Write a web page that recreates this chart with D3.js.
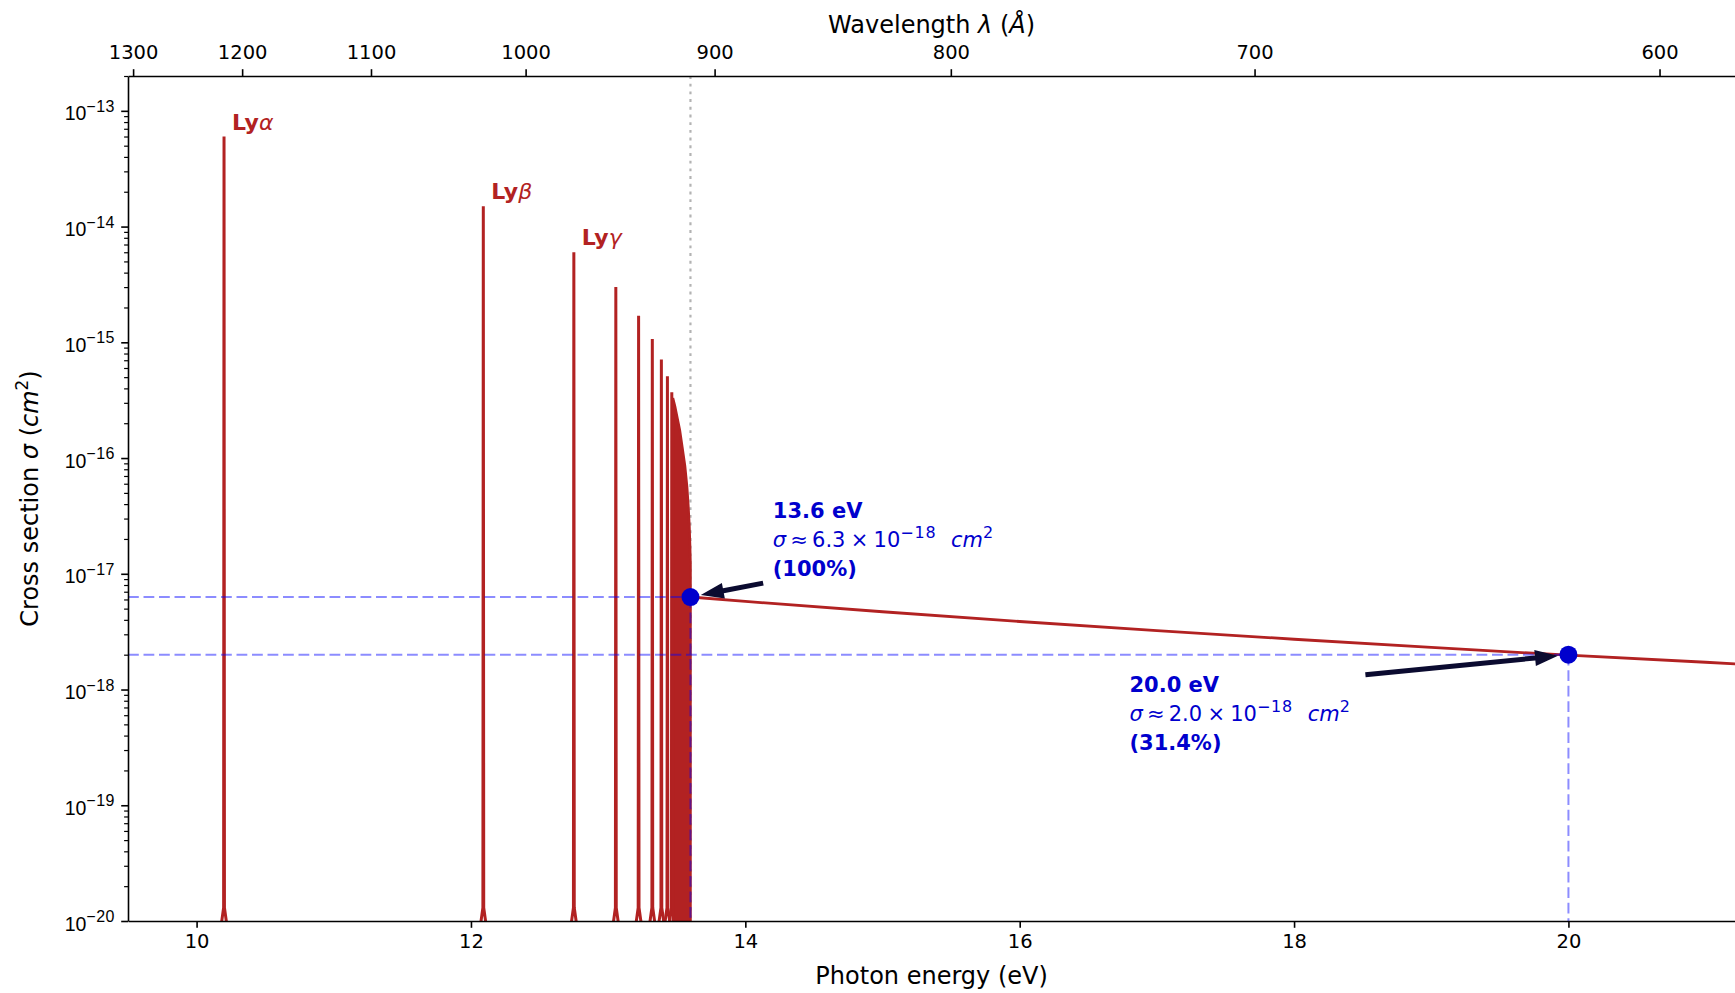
<!DOCTYPE html>
<html>
<head>
<meta charset="utf-8">
<script src="https://cdn.jsdelivr.net/npm/d3@7/dist/d3.min.js"></script>
<style>
  html, body { margin: 0; padding: 0; background: #fff; }
  svg { display: block; font-family: "DejaVu Sans", sans-serif; }
</style>
</head>
<body>
<svg id="chart" width="1735" height="993"></svg>
<script>
// Hydrogen Lyman-series absorption lines and photoionization continuum
const HC_EV_ANGSTROM = 12398.4;

// Discrete Lyman lines (n = 2 ... 10): energy (eV) and peak cross section (cm^2)
const lineEnergy = [10.2, 12.09, 12.75, 13.056, 13.222, 13.322, 13.388, 13.432, 13.464];
const linePeak   = [6.0e-14, 1.5e-14, 6.0e-15, 3.0e-15, 1.7e-15, 1.07e-15, 7.1e-16, 5.1e-16, 3.7e-16];
const lineLabelGreek = ["α", "β", "γ"];

// Unresolved high-n lines piling up against the series limit (upper envelope)
const seriesEdgeEnergy = [13.472, 13.487, 13.505, 13.522, 13.54, 13.56, 13.575, 13.584, 13.592, 13.597, 13.6];
const seriesEdgeSigma  = [3.3e-16, 2.8e-16, 2.2e-16, 1.75e-16, 1.25e-16, 8.5e-17, 5.6e-17, 3.9e-17, 2.6e-17, 1.7e-17, 1.2e-17];

// Photoionization continuum above 13.6 eV
const contEnergy = [13.6, 14, 15, 16, 17, 18, 19, 20, 21, 21.22];
const contSigma  = [6.3e-18, 5.77e-18, 4.70e-18, 3.87e-18, 3.23e-18, 2.72e-18, 2.31e-18, 1.98e-18, 1.72e-18, 1.665e-18];

// Highlighted points
const markerEnergy = [13.6, 20.0];
const markerSigma  = [6.3e-18, 2.0e-18];
const markerTitle  = ["13.6 eV", "20.0 eV"];
const markerMant   = ["6.3", "2.0"];
const markerExp    = ["−18", "−18"];
const markerPct    = ["(100%)", "(31.4%)"];
// annotation text anchors (data coords) and arrow tails (data coords)
const noteEnergy   = [14.2, 16.8];
const noteSigma    = [3.5e-17, 1.1e-18];
const tailEnergy   = [14.13, 18.52];
const tailSigma    = [8.3e-18, 1.34e-18];

// Axis ticks
const energyTicks = [10, 12, 14, 16, 18, 20];
const wavelengthTicks = [1300, 1200, 1100, 1000, 900, 800, 700, 600];
const sigmaDecades = [-20, -19, -18, -17, -16, -15, -14, -13];

const X_MIN = 9.5, X_MAX = 21.22, Y_MIN = 1e-20, Y_MAX = 2e-13;
const mL = 128, mR = 1735.8, mT = 76, mB = 921;
const RED = "#b22222", BLUE = "#0000cd", ARROW = "#0b0b30";

const svg = d3.select("#chart");
const x = d3.scaleLinear().domain([X_MIN, X_MAX]).range([mL, mR]);
const y = d3.scaleLog().domain([Y_MIN, Y_MAX]).range([mB, mT]);

svg.append("defs").append("clipPath").attr("id", "plotClip")
  .append("rect").attr("x", mL).attr("y", mT).attr("width", mR - mL).attr("height", mB - mT);

const plot = svg.append("g").attr("clip-path", "url(#plotClip)");

// ionization threshold marker
plot.append("line")
  .attr("x1", x(13.6)).attr("x2", x(13.6)).attr("y1", mT).attr("y2", mB)
  .attr("stroke", "#9a9a9a").attr("stroke-opacity", 0.75).attr("stroke-width", 2.2)
  .attr("stroke-dasharray", "2.9,4.8");

// narrow line profiles rising from the floor
const line = d3.line().x(d => x(d[0])).y(d => y(d[1]));
const HALF_BASE = 0.022, HALF_NECK = 0.003, NECK = 1.3e-20;
lineEnergy.forEach((e, i) => {
  const pts = [[e - HALF_BASE, Y_MIN * 0.9], [e - HALF_NECK, NECK], [e, linePeak[i]],
               [e + HALF_NECK, NECK], [e + HALF_BASE, Y_MIN * 0.9]];
  plot.append("path").attr("d", line(pts))
    .attr("fill", "none").attr("stroke", RED).attr("stroke-width", 3)
    .attr("stroke-linejoin", "bevel");
});

// series-limit pile-up
const edgePts = [[seriesEdgeEnergy[0], Y_MIN]]
  .concat(seriesEdgeEnergy.map((e, i) => [e, seriesEdgeSigma[i]]))
  .concat([[seriesEdgeEnergy[seriesEdgeEnergy.length - 1], Y_MIN]]);
plot.append("path").attr("d", line(edgePts))
  .attr("fill", RED).attr("stroke", RED).attr("stroke-width", 2.6);

// continuum
plot.append("path").attr("d", line(contEnergy.map((e, i) => [e, contSigma[i]])))
  .attr("fill", "none").attr("stroke", RED).attr("stroke-width", 2.8);

// guide lines to the highlighted points
markerEnergy.forEach((e, i) => {
  const px = x(e), py = y(markerSigma[i]);
  plot.append("line").attr("x1", mL).attr("x2", px).attr("y1", py).attr("y2", py)
    .attr("stroke", "blue").attr("stroke-opacity", 0.45).attr("stroke-width", 2)
    .attr("stroke-dasharray", "10.8,4.7");
  plot.append("line").attr("x1", px).attr("x2", px).attr("y1", py).attr("y2", mB)
    .attr("stroke", "blue").attr("stroke-opacity", 0.45).attr("stroke-width", 2)
    .attr("stroke-dasharray", "10.8,4.7");
});

// markers
plot.selectAll("circle.mk").data(markerEnergy).enter().append("circle")
  .attr("class", "mk")
  .attr("cx", d => x(d)).attr("cy", (d, i) => y(markerSigma[i]))
  .attr("r", 9).attr("fill", BLUE);

// arrows
function arrow(x0, y0, x1, y1, shrink) {
  const dx = x1 - x0, dy = y1 - y0, L = Math.hypot(dx, dy);
  const ux = dx / L, uy = dy / L, nx = -uy, ny = ux;
  const tx = x1 - ux * shrink, ty = y1 - uy * shrink;
  const hl = 23, hw = 8, sw = 2.5;
  const bx = tx - ux * hl, by = ty - uy * hl;
  const p = [
    [x0 + nx * sw, y0 + ny * sw], [bx + nx * sw, by + ny * sw], [bx + nx * hw, by + ny * hw],
    [tx, ty],
    [bx - nx * hw, by - ny * hw], [bx - nx * sw, by - ny * sw], [x0 - nx * sw, y0 - ny * sw]
  ];
  svg.append("path").attr("d", "M" + p.map(q => q.join(",")).join("L") + "Z").attr("fill", ARROW);
}
markerEnergy.forEach((e, i) => {
  arrow(x(tailEnergy[i]), y(tailSigma[i]), x(e), y(markerSigma[i]), 10.5);
});

// annotation text
const NOTE = 21, LEAD = 28.7;
markerEnergy.forEach((e, i) => {
  const tx = x(noteEnergy[i]), ty = y(noteSigma[i]) + 7.5;
  const g = svg.append("g").attr("fill", BLUE).attr("font-size", NOTE);
  g.append("text").attr("x", tx).attr("y", ty).attr("font-weight", "bold").text(markerTitle[i]);
  const t2 = g.append("text").attr("x", tx).attr("y", ty + LEAD);
  t2.append("tspan").attr("font-style", "italic").text("σ");
  t2.append("tspan").text("\u2009≈\u2009" + markerMant[i] + "\u2005×\u200510");
  t2.append("tspan").attr("font-size", NOTE * 0.76).attr("dy", -9).attr("letter-spacing", 0.8)
    .text(markerExp[i]);
  t2.append("tspan").attr("dy", 9).text("\u2002\u2009");
  t2.append("tspan").attr("font-style", "italic").text("cm");
  t2.append("tspan").attr("font-size", NOTE * 0.76).attr("dy", -9).text("2");
  g.append("text").attr("x", tx).attr("y", ty + 2 * LEAD).attr("font-weight", "bold").text(markerPct[i]);
});

// Lyman line labels
lineLabelGreek.forEach((gch, i) => {
  const t = svg.append("text")
    .attr("x", x(lineEnergy[i]) + 8).attr("y", y(linePeak[i]) - 7)
    .attr("fill", RED).attr("font-size", 22);
  t.append("tspan").attr("font-weight", "bold").text("Ly");
  t.append("tspan").attr("font-style", "italic").text(gch);
});

// ---- axes ----
const TICK = 19.5;
function styleAxis(g) {
  g.select(".domain").attr("stroke", "#000").attr("stroke-width", 1.6);
  g.selectAll(".tick line").attr("stroke", "#000").attr("stroke-width", 1.6);
  g.selectAll(".tick text").attr("font-size", TICK).attr("fill", "#000")
    .attr("font-family", "DejaVu Sans, sans-serif");
}

// bottom: photon energy
const gx = svg.append("g").attr("transform", `translate(0,${mB})`)
  .call(d3.axisBottom(x).tickValues(energyTicks).tickFormat(d3.format("d"))
    .tickSizeOuter(0).tickSizeInner(6.8).tickPadding(6));
styleAxis(gx);

// top: wavelength
const gt = svg.append("g").attr("transform", `translate(0,${mT})`)
  .call(d3.axisTop(x).tickValues(wavelengthTicks.map(l => HC_EV_ANGSTROM / l))
    .tickFormat((d, i) => String(wavelengthTicks[i]))
    .tickSizeOuter(0).tickSizeInner(6.8).tickPadding(10));
styleAxis(gt);

// left: cross section (log)
const minorVals = [];
sigmaDecades.forEach(k => { for (let m = 2; m <= 9; m++) { const v = m * Math.pow(10, k); if (v <= Y_MAX) minorVals.push(v); } });
const gyMinor = svg.append("g").attr("transform", `translate(${mL},0)`)
  .call(d3.axisLeft(y).tickValues(minorVals).tickFormat("").tickSizeOuter(0).tickSizeInner(3.9));
gyMinor.select(".domain").remove();
gyMinor.selectAll(".tick line").attr("stroke", "#000").attr("stroke-width", 1.2);

const gy = svg.append("g").attr("transform", `translate(${mL},0)`)
  .call(d3.axisLeft(y).tickValues(sigmaDecades.map(k => Math.pow(10, k))).tickFormat("")
    .tickSizeOuter(0).tickSizeInner(6.8));
styleAxis(gy);
gy.selectAll(".tick").each(function(d, i) {
  const t = d3.select(this).append("text")
    .attr("x", -13).attr("y", 9).attr("text-anchor", "end")
    .attr("font-size", TICK).attr("fill", "#000");
  t.append("tspan").text("10");
  t.append("tspan").attr("font-size", 16).attr("dy", -8.5).attr("letter-spacing", 0.5)
    .text("−" + Math.abs(sigmaDecades[i]));
});

// right spine (sits on the figure edge)
svg.append("line").attr("x1", mR).attr("x2", mR).attr("y1", mT).attr("y2", mB)
  .attr("stroke", "#000").attr("stroke-width", 1.6);

// axis titles
svg.append("text").attr("x", 931.6).attr("y", 983.5)
  .attr("text-anchor", "middle").attr("font-size", 24).attr("fill", "#000")
  .text("Photon energy (eV)");

const tl = svg.append("text").attr("x", 931.6).attr("y", 33)
  .attr("text-anchor", "middle").attr("font-size", 24).attr("fill", "#000");
tl.append("tspan").text("Wavelength ");
tl.append("tspan").attr("font-style", "italic").text("λ");
tl.append("tspan").text(" (");
tl.append("tspan").attr("font-style", "italic").text("Å");
tl.append("tspan").text(")");

const yl = svg.append("text")
  .attr("transform", `translate(38,${(mT + mB) / 2}) rotate(-90)`)
  .attr("text-anchor", "middle").attr("font-size", 24).attr("fill", "#000");
yl.append("tspan").text("Cross section ");
yl.append("tspan").attr("font-style", "italic").text("σ");
yl.append("tspan").text(" (");
yl.append("tspan").attr("font-style", "italic").text("cm");
yl.append("tspan").attr("font-size", 24 * 0.7).attr("dy", -10).text("2");
yl.append("tspan").attr("dy", 10).text(")");
</script>
</body>
</html>
